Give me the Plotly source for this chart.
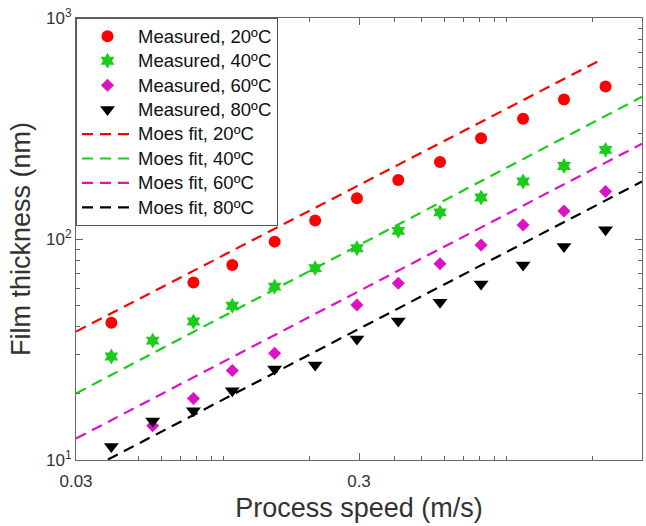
import plotly.graph_objects as go

# Measured film thickness (nm) against process speed (m/s)
speed_all = [0.040, 0.056, 0.078, 0.107, 0.151, 0.210, 0.295, 0.413, 0.58, 0.81, 1.14, 1.59, 2.23]
speed_20 = [0.040, 0.078, 0.107, 0.151, 0.210, 0.295, 0.413, 0.58, 0.81, 1.14, 1.59, 2.23]
speed_60 = [0.056, 0.078, 0.107, 0.151, 0.295, 0.413, 0.58, 0.81, 1.14, 1.59, 2.23]

thk_20 = [41.8, 63.5, 76.3, 97.3, 121.2, 153, 185, 223, 286, 350, 428, 490]
thk_40 = [29.4, 34.7, 42.3, 49.9, 60.9, 73.8, 90.8, 108.8, 132, 154, 182, 214, 253]
thk_60 = [14.3, 19.0, 25.4, 30.4, 50.3, 63.1, 77.2, 94.0, 115.8, 134, 164]
thk_80 = [11.5, 15.0, 16.7, 20.6, 25.8, 26.9, 35.3, 42.6, 51.7, 62.6, 76.3, 92.4, 110]

# Moes fit lines (straight in log-log space), given by their end points
fit_x_20 = [0.03, 2.15]
fit_y_20 = [38.1, 647]
fit_x = [0.03, 3.0]
fit_y_40 = [20.0, 440]
fit_y_60 = [12.5, 270]
fit_y_80 = [8.45, 182]

# Legend labels
labels_measured = ["Measured, 20ºC", "Measured, 40ºC", "Measured, 60ºC", "Measured, 80ºC"]
labels_fit = ["Moes fit, 20ºC", "Moes fit, 40ºC", "Moes fit, 60ºC", "Moes fit, 80ºC"]

# Axis ticks
x_major = [0.03, 0.3, 3]
x_major_text = ["0.03", "0.3", "3"]
x_minor = [0.05, 0.06, 0.07, 0.08, 0.09, 0.1, 0.2, 0.4, 0.5, 0.6, 0.7, 0.8, 0.9, 1, 2]
y_major = [10, 100, 1000]
y_major_text = ["10<sup>1</sup>", "10<sup>2</sup>", "10<sup>3</sup>"]
y_minor = [20, 30, 40, 50, 60, 70, 80, 90, 200, 300, 400, 500, 600, 700, 800, 900]

RED = "#ff0000"
GREEN = "#1ccc1c"
MAGENTA = "#de10c8"
BLACK = "#000000"
FONT = "Arial, Liberation Sans, Helvetica, sans-serif"


def legend_label(text):
    # larger glyphs than the legend row spacing would give on its own
    return '<span style="font-size:18.5px">' + text + "</span>"


fig = go.Figure()

fig.add_trace(go.Scatter(x=speed_20, y=thk_20, mode="markers", name=legend_label(labels_measured[0]),
                         marker=dict(symbol="circle", size=12, color=RED)))
fig.add_trace(go.Scatter(x=speed_all, y=thk_40, mode="markers", name=legend_label(labels_measured[1]),
                         marker=dict(symbol="hexagram", size=12, color=GREEN)))
fig.add_trace(go.Scatter(x=speed_60, y=thk_60, mode="markers", name=legend_label(labels_measured[2]),
                         marker=dict(symbol="diamond", size=10, color=MAGENTA)))
fig.add_trace(go.Scatter(x=speed_all, y=thk_80, mode="markers", name=legend_label(labels_measured[3]),
                         marker=dict(symbol="triangle-down", size=13, color=BLACK)))

dash = "11px,7px"
fig.add_trace(go.Scatter(x=fit_x_20, y=fit_y_20, mode="lines", name=legend_label(labels_fit[0]),
                         line=dict(color=RED, width=2.2, dash=dash)))
fig.add_trace(go.Scatter(x=fit_x, y=fit_y_40, mode="lines", name=legend_label(labels_fit[1]),
                         line=dict(color=GREEN, width=2.2, dash=dash)))
fig.add_trace(go.Scatter(x=fit_x, y=fit_y_60, mode="lines", name=legend_label(labels_fit[2]),
                         line=dict(color=MAGENTA, width=2.2, dash=dash)))
fig.add_trace(go.Scatter(x=fit_x, y=fit_y_80, mode="lines", name=legend_label(labels_fit[3]),
                         line=dict(color=BLACK, width=2.2, dash=dash)))

axis_common = dict(
    type="log",
    showgrid=False,
    zeroline=False,
    showline=True,
    linecolor="#666666",
    linewidth=1,
    mirror="ticks",
    ticks="inside",
    ticklen=7,
    tickwidth=1,
    tickcolor="#666666",
    tickfont=dict(family=FONT, size=17, color="#333333"),
)

fig.update_xaxes(
    **axis_common,
    range=[-1.5228787, 0.4771213],
    tickmode="array",
    tickvals=x_major,
    ticktext=x_major_text,
    ticklabelstandoff=6,
    minor=dict(tickmode="array", tickvals=x_minor, ticks="inside", ticklen=4,
               tickcolor="#666666", showgrid=False),
    title=dict(text="Process speed (m/s)", font=dict(family=FONT, size=27, color="#333333"),
               standoff=7),
)
fig.update_yaxes(
    **axis_common,
    range=[1, 3],
    tickmode="array",
    tickvals=y_major,
    ticktext=y_major_text,
    minor=dict(tickmode="array", tickvals=y_minor, ticks="inside", ticklen=4,
               tickcolor="#666666", showgrid=False),
    title=dict(text="Film thickness (nm)", font=dict(family=FONT, size=27, color="#333333"),
               standoff=7),
)

fig.update_layout(
    width=646,
    height=526,
    margin=dict(l=76, r=4, t=18, b=66),
    paper_bgcolor="white",
    plot_bgcolor="white",
    font=dict(family=FONT, color="#111111"),
    legend=dict(
        x=0, y=1, xanchor="left", yanchor="top",
        bgcolor="white", bordercolor="#555555", borderwidth=1,
        font=dict(family=FONT, size=16.5, color="#111111"),
        itemwidth=51, tracegroupgap=0,
    ),
)

fig.write_html("out.html")
